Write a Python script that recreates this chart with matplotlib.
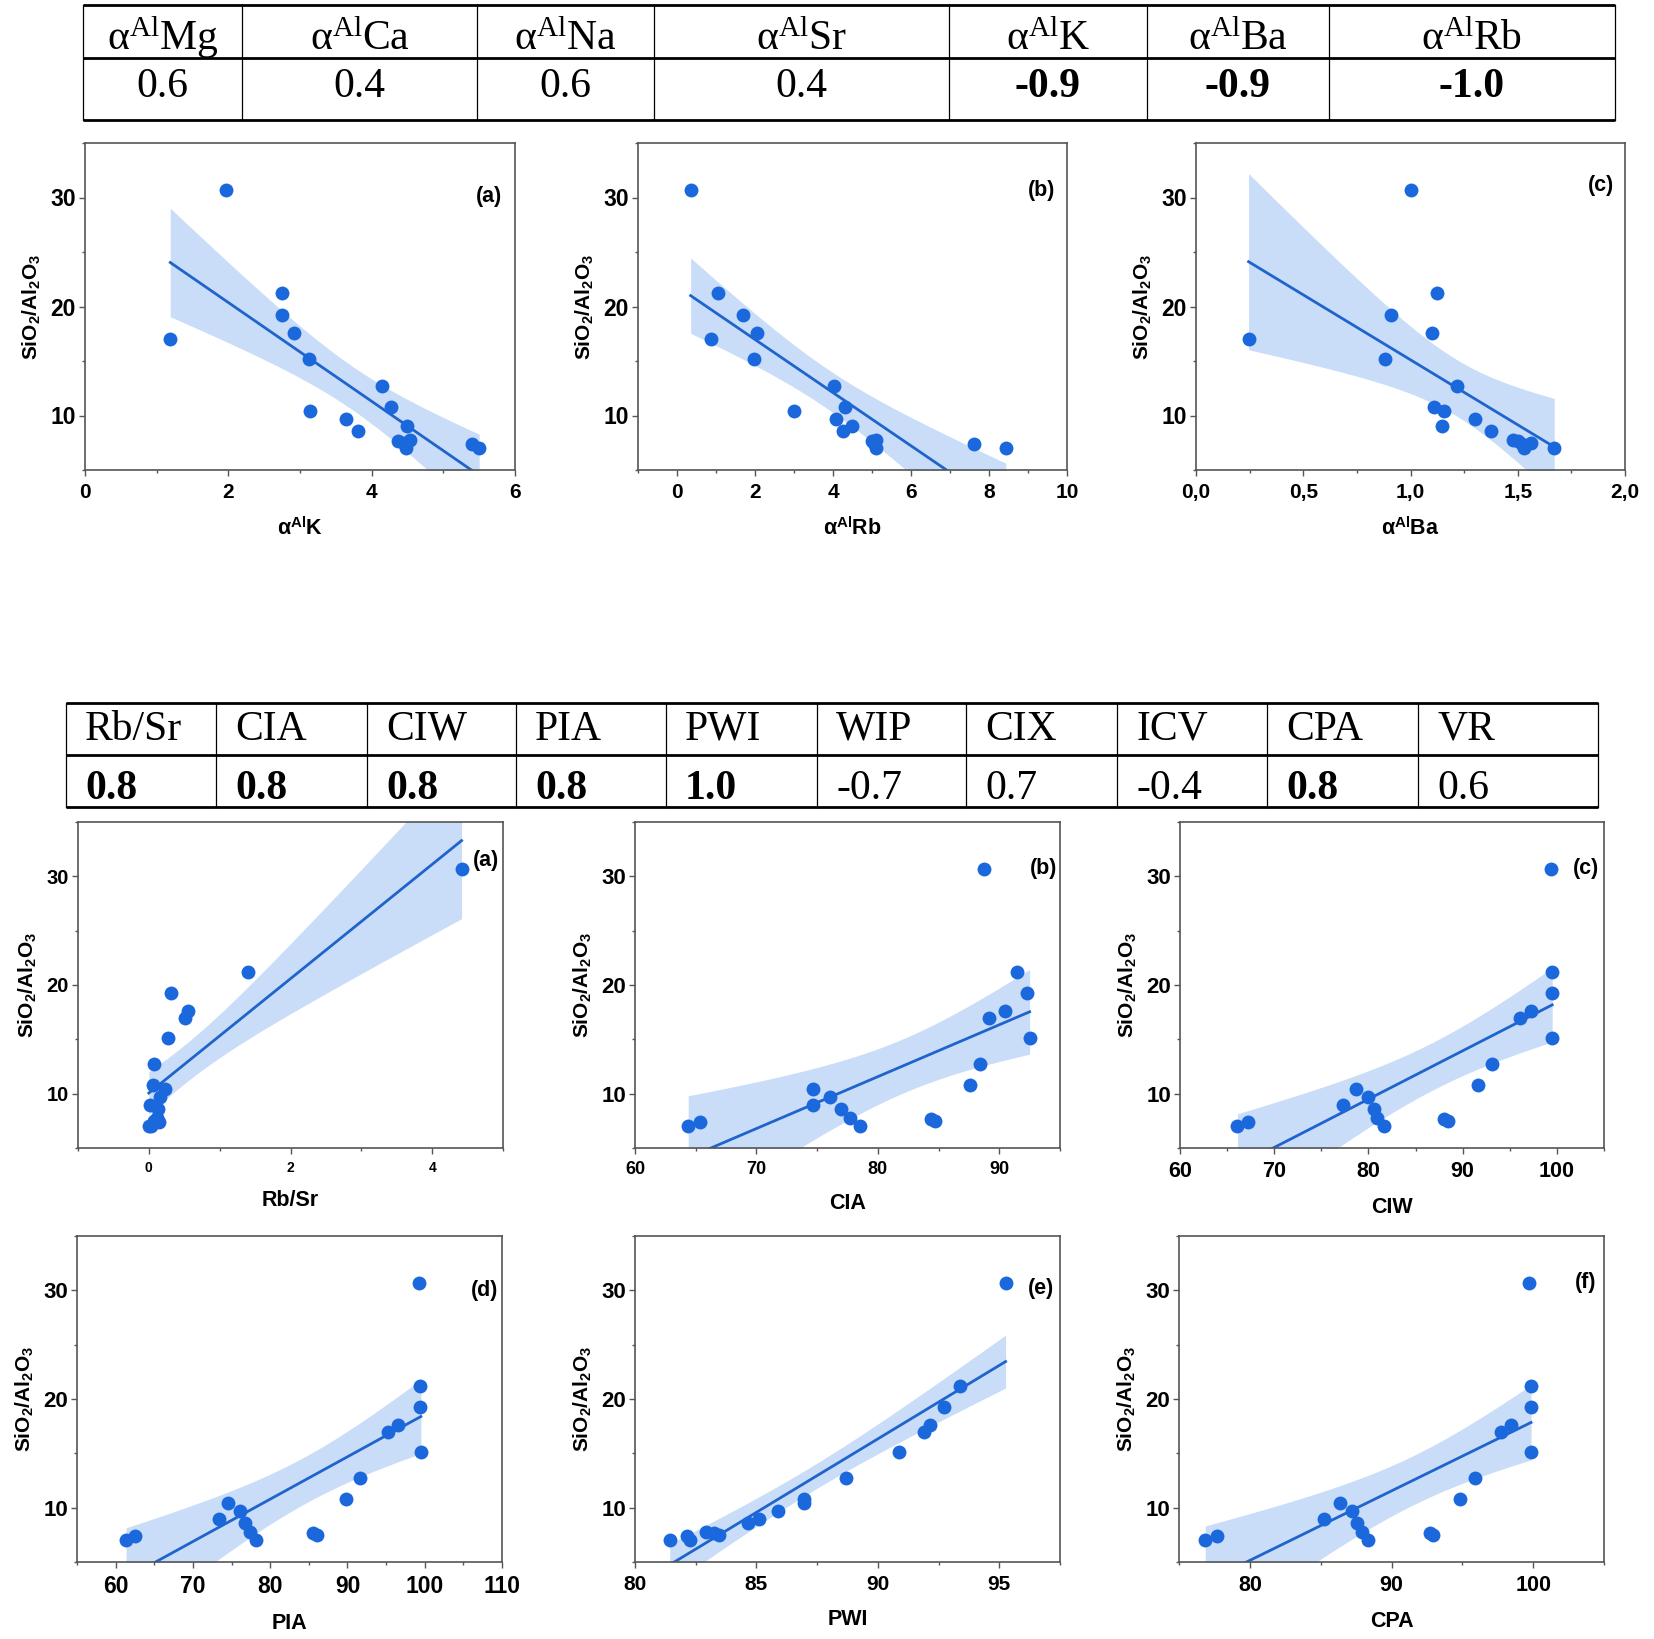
import numpy as np
import matplotlib
matplotlib.use("Agg")
import matplotlib.pyplot as plt
from matplotlib.ticker import MultipleLocator, FuncFormatter

plt.rcParams['font.family'] = ['Liberation Sans', 'DejaVu Sans']
plt.rcParams['font.weight'] = 'bold'
plt.rcParams['axes.labelweight'] = 'bold'
plt.rcParams['mathtext.fontset'] = 'custom'
plt.rcParams['mathtext.rm'] = 'Liberation Serif:weight=normal'
plt.rcParams['mathtext.it'] = 'Liberation Serif:italic:weight=normal'
plt.rcParams['mathtext.bf'] = 'Liberation Sans:weight=bold'

# ---------------- data ----------------
# SiO2/Al2O3 of the 18 samples (shared y of every panel)
sio2_al2o3 = [30.7, 21.2, 19.25, 17.6, 17.0, 15.15, 12.75, 10.8, 10.4,
              9.65, 9.0, 8.6, 7.75, 7.0, 7.65, 7.45, 7.0, 7.4]

alpha_K = [1.965, 2.75, 2.75, 2.92, 1.19, 3.12, 4.15, 4.27, 3.14,
           3.64, 4.5, 3.81, 4.54, 4.48, 4.37, 4.45, 5.5, 5.4]
alpha_Rb = [0.35, 1.06, 1.70, 2.04, 0.87, 1.98, 4.03, 4.31, 2.99,
            4.07, 4.49, 4.26, 5.11, 5.11, 5.0, 5.05, 8.43, 7.62]
alpha_Ba = [1.0, 1.125, 0.91, 1.10, 0.245, 0.88, 1.217, 1.11, 1.155,
            1.30, 1.146, 1.374, 1.48, 1.53, 1.50, 1.56, 1.67, 1.52]

rb_sr = [4.415, 1.395, 0.318, 0.548, 0.514, 0.27, 0.073, 0.06, 0.23,
         0.157, 0.02, 0.13, 0.11, 0.03, 0.12, 0.08, 0.0, 0.14]
cia = [88.7, 91.48, 92.3, 90.5, 89.17, 92.5, 88.4, 87.6, 74.66,
       76.08, 74.66, 76.97, 77.68, 78.57, 84.37, 84.7, 64.38, 65.33]
ciw = [99.36, 99.47, 99.47, 97.2, 96.1, 99.5, 93.1, 91.6, 78.7,
       80.0, 77.26, 80.56, 80.9, 81.6, 88.0, 88.4, 66.1, 67.25]
pia = [99.2, 99.43, 99.43, 96.5, 95.2, 99.5, 91.65, 89.77, 74.57,
       76.14, 73.35, 76.8, 77.4, 78.17, 85.6, 86.1, 61.35, 62.56]
pwi = [95.26, 93.38, 92.72, 92.13, 91.9, 90.88, 88.68, 86.96, 86.94,
       85.9, 85.1, 84.66, 82.94, 81.43, 83.24, 83.46, 82.25, 82.16]
cpa = [99.72, 99.82, 99.82, 98.46, 97.76, 99.85, 95.92, 94.86, 86.35,
       87.23, 85.21, 87.6, 87.93, 88.36, 92.72, 92.92, 76.85, 77.68]

# correlation tables
top_elements = ['Mg', 'Ca', 'Na', 'Sr', 'K', 'Ba', 'Rb']
top_r = [0.6, 0.4, 0.6, 0.4, -0.9, -0.9, -1.0]
bottom_indices = ['Rb/Sr', 'CIA', 'CIW', 'PIA', 'PWI', 'WIP', 'CIX', 'ICV', 'CPA', 'VR']
bottom_r = [0.8, 0.8, 0.8, 0.8, 1.0, -0.7, 0.7, -0.4, 0.8, 0.6]

# ---------------- style ----------------
W, H = 1654, 1639
PT_COLOR = '#1a68dc'
LINE_COLOR = '#1f64cc'
BAND_COLOR = '#c9ddf8'
SPINE_COLOR = '#555555'
T_CRIT = 2.12  # Student t, 95%, 16 dof

fig = plt.figure(figsize=(W / 100, H / 100), dpi=100)
fig.patch.set_facecolor('white')

# background axes in pixel coordinates for the two tables
bg = fig.add_axes([0, 0, 1, 1])
bg.set_xlim(0, W)
bg.set_ylim(H, 0)
bg.axis('off')


def draw_table(edges, top, mid, bottom, headers, values, centered, hdr_base, val_base, pad=19):
    serif = ['Liberation Serif', 'DejaVu Serif']
    for yy, lw in ((top, 2.0), (mid, 2.0), (bottom, 2.0)):
        bg.plot([edges[0], edges[-1]], [yy, yy], color='black', lw=lw, solid_capstyle='butt')
    for xx in edges:
        bg.plot([xx, xx], [top, bottom], color='black', lw=0.9)
    for i, (h, v) in enumerate(zip(headers, values)):
        if centered:
            xc, ha = (edges[i] + edges[i + 1]) / 2, 'center'
        else:
            xc, ha = edges[i] + pad, 'left'
        bg.text(xc, hdr_base, h, ha=ha, va='baseline', fontsize=30,
                family=serif, fontweight='normal')
        bg.text(xc, val_base, f'{v:.1f}', ha=ha, va='baseline', fontsize=30,
                family=serif, fontweight='bold' if abs(v) >= 0.8 else 'normal')


top_edges = [83, 242, 477, 654, 949, 1147, 1329, 1615]
draw_table(top_edges, 5, 58, 120,
           [r'α$^{\mathrm{Al}}$' + e for e in top_elements], top_r, True, 50, 97)

bot_edges = [66, 216, 367, 516, 666, 817, 966, 1117, 1267, 1418, 1598]
draw_table(bot_edges, 703, 755, 807, bottom_indices, bottom_r, False, 740, 799)


def comma_fmt(v, pos):
    return f'{v:.1f}'.replace('.', ',')


def plain_fmt(v, pos):
    return f'{v:g}'


panels = []


def panel(rect, x, xlim, major, minor, xlabel, letter, letter_pos, xts, yts, comma=False):
    l, t, r, b = rect
    ax = fig.add_axes([l / W, 1 - b / H, (r - l) / W, (b - t) / H])
    x = np.asarray(x, float)
    y = np.asarray(sio2_al2o3, float)
    n = len(x)
    slope, icpt = np.polyfit(x, y, 1)
    xs = np.linspace(x.min(), x.max(), 200)
    yhat = icpt + slope * xs
    resid = y - (icpt + slope * x)
    s = np.sqrt(np.sum(resid ** 2) / (n - 2))
    sxx = np.sum((x - x.mean()) ** 2)
    se = s * np.sqrt(1.0 / n + (xs - x.mean()) ** 2 / sxx)
    ax.fill_between(xs, yhat - T_CRIT * se, yhat + T_CRIT * se, color=BAND_COLOR, lw=0, zorder=1)
    ax.plot(xs, yhat, color=LINE_COLOR, lw=2.0, zorder=2)
    ax.scatter(x, y, s=100, color=PT_COLOR, lw=0, zorder=3)
    ax.set_xlim(*xlim)
    ax.set_ylim(5, 35)
    ax.xaxis.set_major_locator(MultipleLocator(major))
    ax.xaxis.set_minor_locator(MultipleLocator(minor))
    ax.yaxis.set_major_locator(MultipleLocator(10))
    ax.yaxis.set_minor_locator(MultipleLocator(5))
    ax.xaxis.set_major_formatter(FuncFormatter(comma_fmt if comma else plain_fmt))
    ax.yaxis.set_major_formatter(FuncFormatter(plain_fmt))
    for sp in ax.spines.values():
        sp.set_color(SPINE_COLOR)
        sp.set_linewidth(1.2)
    ax.tick_params(which='both', direction='out', color=SPINE_COLOR, width=1.0,
                   top=False, right=False)
    ax.tick_params(which='major', length=4.5)
    ax.tick_params(which='minor', length=2.5)
    ax.tick_params(axis='x', labelsize=xts, pad=5)
    ax.tick_params(axis='y', labelsize=yts, pad=2)
    ax.set_xlabel(xlabel, fontsize=15.5, labelpad=11, fontweight='bold')
    ax.set_ylabel(r'SiO$_{\mathbf{2}}$/Al$_{\mathbf{2}}$O$_{\mathbf{3}}$',
                  fontsize=15, labelpad=6, fontweight='bold')
    ax.text(letter_pos[0], letter_pos[1], letter, transform=ax.transAxes,
            ha='center', va='center', fontsize=15.5, fontweight='bold')
    panels.append(ax)
    return ax


alab = r'α$^{\mathbf{Al}}$'
panel((85, 143, 515, 470), alpha_K, (0, 6), 2, 1, alab + 'K', '(a)', (0.94, 0.835), 15, 16.5)
panel((638, 143, 1067, 470), alpha_Rb, (-1, 10), 2, 1, alab + 'Rb', '(b)', (0.94, 0.856), 15, 16.5)
panel((1196, 143, 1625, 470), alpha_Ba, (0, 2), 0.5, 0.25, alab + 'Ba', '(c)', (0.944, 0.871), 15, 16.5, comma=True)

panel((78, 822, 503, 1148), rb_sr, (-1, 5), 2, 1, 'Rb/Sr', '(a)', (0.96, 0.883), 10, 14.5)
panel((635, 822, 1060, 1148), cia, (60, 95), 10, 5, 'CIA', '(b)', (0.962, 0.856), 13, 16)
panel((1180, 822, 1604, 1148), ciw, (60, 105), 10, 5, 'CIW', '(c)', (0.957, 0.856), 15.5, 16)

panel((77, 1236, 502, 1562), pia, (55, 110), 10, 5, 'PIA', '(d)', (0.96, 0.834), 16.5, 16)
panel((635, 1236, 1060, 1562), pwi, (80, 97.5), 5, 2.5, 'PWI', '(e)', (0.955, 0.84), 15, 16)
panel((1179, 1236, 1604, 1562), cpa, (75, 105), 10, 5, 'CPA', '(f)', (0.957, 0.856), 15.5, 16)

fig.canvas.draw()
for ax in panels:
    plt.setp(ax.get_xticklabels(), fontweight='bold')
    plt.setp(ax.get_yticklabels(), fontweight='bold')

fig.savefig('out.png', dpi=100, facecolor='white')
